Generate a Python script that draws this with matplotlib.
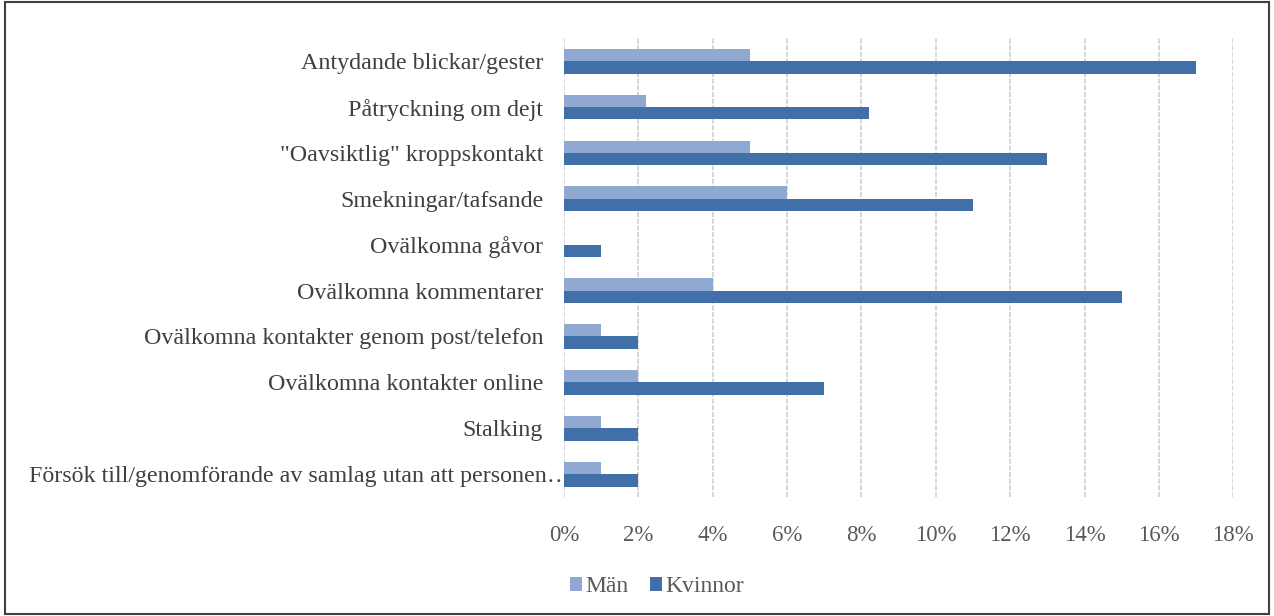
import numpy as np
import matplotlib
matplotlib.use("Agg")
import matplotlib.pyplot as plt
import matplotlib.transforms as mtransforms
from matplotlib.patches import Rectangle
from matplotlib.ticker import FuncFormatter

plt.rcParams['font.family'] = ['Liberation Serif', 'DejaVu Serif']

categories = ['Antydande blickar/gester', 'Påtryckning om dejt',
              '"Oavsiktlig" kroppskontakt', 'Smekningar/tafsande',
              'Ovälkomna gåvor', 'Ovälkomna kommentarer',
              'Ovälkomna kontakter genom post/telefon',
              'Ovälkomna kontakter online', 'Stalking',
              'Försök till/genomförande av samlag utan att personen…']
man = [5, 2.2, 5, 6, 0, 4, 1, 2, 1, 1]
kvinnor = [17, 8.2, 13, 11, 1, 15, 2, 7, 2, 2]
xticks = [0, 2, 4, 6, 8, 10, 12, 14, 16, 18]

fig = plt.figure(figsize=(12.74, 6.16), dpi=100)
ax = fig.add_axes([0.4427, 0.193, 0.5253, 0.745])

y = np.arange(len(categories))
h = 0.27
ax.barh(y - h / 2, man, height=h, color='#8FA9D2', label='Män', zorder=3)
ax.barh(y + h / 2, kvinnor, height=h, color='#4170A8', label='Kvinnor', zorder=3)

ax.set_ylim(len(categories) - 0.5, -0.5)
ax.set_xlim(0, 18)
ax.set_yticks(y)
ax.set_yticklabels(categories, fontsize=17.3, color='#404040')
ax.set_xticks(xticks)
ax.xaxis.set_major_formatter(FuncFormatter(lambda v, p: '%d%%' % v))
ax.tick_params(axis='x', labelsize=16.5, labelcolor='#595959', length=0, pad=20)
ax.tick_params(axis='y', length=0, pad=15)
ax.grid(axis='x', color='#CFCFCF', linestyle=(0, (3, 1)), linewidth=1.2, zorder=0)
for s in ax.spines.values():
    s.set_visible(False)

# Excel-style truncated last label runs into the plot area
last = ax.get_yticklabels()[-1]
last.set_transform(last.get_transform() + mtransforms.ScaledTranslation(20 / 72, 0, fig.dpi_scale_trans))

ax.legend(loc='center', bbox_to_anchor=(657 / 1274, 1 - 587 / 616),
          bbox_transform=fig.transFigure, ncol=2, frameon=False,
          fontsize=17, handlelength=0.5, handleheight=0.5, columnspacing=0.9,
          handletextpad=0.15, labelcolor='#595959')

fig.patches.append(Rectangle((0.004, 0.003), 0.992, 0.994, transform=fig.transFigure,
                             fill=False, edgecolor='#404040', linewidth=1.5))

fig.savefig('out.png', dpi=100)
